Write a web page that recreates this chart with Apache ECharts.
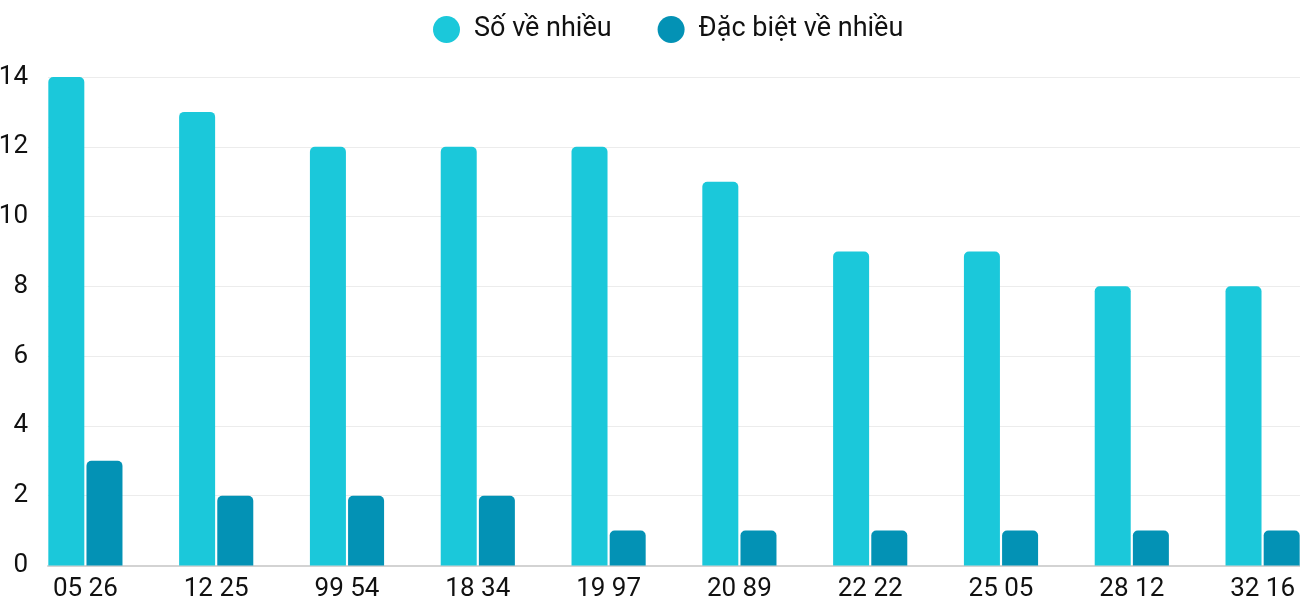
<!DOCTYPE html>
<html><head><meta charset="utf-8">
<script src="https://cdn.jsdelivr.net/npm/echarts@6/dist/echarts.min.js"></script>
<style>html,body{margin:0;padding:0;background:#fff;overflow:hidden;width:1300px;height:600px}#c{width:1328px;height:600px}</style>
</head><body><div id="c"></div>
<script>
const categories = ["05 26","12 25","99 54","18 34","19 97","20 89","22 22","25 05","28 12","32 16"];
const soVeNhieu = [14,13,12,12,12,11,9,9,8,8];
const dacBietVeNhieu = [3,2,2,2,1,1,1,1,1,1];
const yTicks = {min:0, max:14, interval:2};

const chart = echarts.init(document.getElementById('c'), null, {renderer:'canvas'});
const font = 'Roboto';
chart.setOption({
  animation:false,
  textStyle:{fontFamily:font},
  legend:{
    top:11, left:428, itemWidth:27, itemHeight:27, itemGap:46, icon:'circle',
    textStyle:{fontSize:27, color:'#111', fontFamily:font, padding:[0,0,0,9]},
    data:['Số về nhiều','Đặc biệt về nhiều']
  },
  grid:[
    {left:48, right:28, top:77, height:488.5, outerBoundsMode:'none', containLabel:false},
    {left:20, right:0, top:77, height:488.5, outerBoundsMode:'none', containLabel:false}
  ],
  xAxis:[
    {gridIndex:0, type:'value', min:0, max:1, axisLine:{show:true, lineStyle:{color:'#d3d3d3', width:2}}, axisTick:{show:false}, axisLabel:{show:false}, splitLine:{show:false}},
    {gridIndex:1, type:'category', data:categories, axisLine:{show:false}, axisTick:{show:false},
     axisLabel:{fontSize:26, color:'#111', fontFamily:font, margin:11}}
  ],
  yAxis:[
    {gridIndex:0, type:'value', min:yTicks.min, max:yTicks.max, interval:yTicks.interval,
     axisLine:{show:false}, axisTick:{show:false},
     axisLabel:{fontSize:26, color:'#111', fontFamily:font, margin:20},
     splitLine:{lineStyle:{color:'#ececec', width:1}}},
    {gridIndex:1, type:'value', min:yTicks.min, max:yTicks.max, interval:yTicks.interval, show:false, splitLine:{show:false}}
  ],
  series:[
    {name:'Số về nhiều', type:'bar', xAxisIndex:1, yAxisIndex:1, data:soVeNhieu, barWidth:36, barGap:'6%',
     itemStyle:{color:'#1bc8da', borderRadius:[5,5,0,0]}},
    {name:'Đặc biệt về nhiều', type:'bar', xAxisIndex:1, yAxisIndex:1, data:dacBietVeNhieu, barWidth:36, barGap:'6%',
     itemStyle:{color:'#0392b5', borderRadius:[5,5,0,0]}}
  ]
});
</script></body></html>
